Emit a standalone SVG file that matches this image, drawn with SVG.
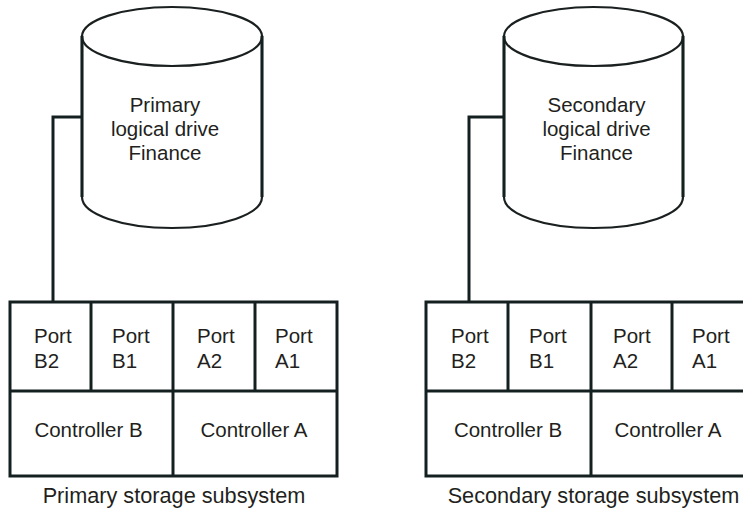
<svg xmlns="http://www.w3.org/2000/svg" width="743" height="512" viewBox="0 0 743 512">
<style>
.bg{fill:#ffffff}
.cyl{fill:#ffffff;stroke:#1a1f1f;stroke-width:2.2}
.cside{fill:none;stroke:#142020;stroke-width:3}
.box{fill:#ffffff;stroke:#142020;stroke-width:3}
.ln{fill:none;stroke:#142020;stroke-width:3}
.conn{fill:none;stroke:#142020;stroke-width:3}
text{font-family:"Liberation Sans",Arial,Helvetica,sans-serif;fill:#231f20}
.t{font-size:20.5px}
.c{text-anchor:middle}
.lbl{font-size:21.7px;text-anchor:middle}
</style>
<rect class="bg" x="0" y="0" width="743" height="512"/>
<g id="connectors">
<polyline class="conn" points="82,117 53,117 53,302"/>
<polyline class="conn" points="504,117 469,117 469,302"/>
</g>
<g id="primary-drive">
<path class="cyl" d="M82,36 L82,197 A90,31 0 0 0 262,197 L262,36 Z"/>
<ellipse class="cyl" cx="172" cy="36.5" rx="90" ry="29.5"/>
<line class="cside" x1="82" y1="36" x2="82" y2="197"/>
<line class="cside" x1="262" y1="36" x2="262" y2="197"/>
<text class="t c" x="165" y="112">Primary</text>
<text class="t c" x="165" y="136">logical drive</text>
<text class="t c" x="165" y="160">Finance</text>
</g>
<g id="secondary-drive">
<path class="cyl" d="M504,36 L504,197 A89.5,31 0 0 0 683,197 L683,36 Z"/>
<ellipse class="cyl" cx="593.5" cy="36.5" rx="89.5" ry="29.5"/>
<line class="cside" x1="504" y1="36" x2="504" y2="197"/>
<line class="cside" x1="683" y1="36" x2="683" y2="197"/>
<text class="t c" x="596.5" y="112">Secondary</text>
<text class="t c" x="596.5" y="136">logical drive</text>
<text class="t c" x="596.5" y="160">Finance</text>
</g>
<g id="primary-subsystem">
<rect class="box" x="10" y="302" width="327" height="174"/>
<line class="ln" x1="10" y1="391" x2="337" y2="391"/>
<line class="ln" x1="91" y1="302" x2="91" y2="391"/>
<line class="ln" x1="173" y1="302" x2="173" y2="476"/>
<line class="ln" x1="255" y1="302" x2="255" y2="391"/>
<text class="t" x="34" y="343">Port</text>
<text class="t" x="34" y="368">B2</text>
<text class="t" x="112" y="343">Port</text>
<text class="t" x="112" y="368">B1</text>
<text class="t" x="197" y="343">Port</text>
<text class="t" x="197" y="368">A2</text>
<text class="t" x="275" y="343">Port</text>
<text class="t" x="275" y="368">A1</text>
<text class="t c" x="88.5" y="437">Controller B</text>
<text class="t c" x="254" y="437">Controller A</text>
<text class="lbl" x="174" y="503">Primary storage subsystem</text>
</g>
<g id="secondary-subsystem">
<rect class="box" x="426" y="302" width="328" height="174"/>
<line class="ln" x1="426" y1="391" x2="754" y2="391"/>
<line class="ln" x1="508" y1="302" x2="508" y2="391"/>
<line class="ln" x1="591" y1="302" x2="591" y2="476"/>
<line class="ln" x1="672" y1="302" x2="672" y2="391"/>
<text class="t" x="451" y="343">Port</text>
<text class="t" x="451" y="368">B2</text>
<text class="t" x="529" y="343">Port</text>
<text class="t" x="529" y="368">B1</text>
<text class="t" x="613" y="343">Port</text>
<text class="t" x="613" y="368">A2</text>
<text class="t" x="692" y="343">Port</text>
<text class="t" x="692" y="368">A1</text>
<text class="t c" x="508" y="437">Controller B</text>
<text class="t c" x="668" y="437">Controller A</text>
<text class="lbl" x="593.5" y="503">Secondary storage subsystem</text>
</g>
</svg>
